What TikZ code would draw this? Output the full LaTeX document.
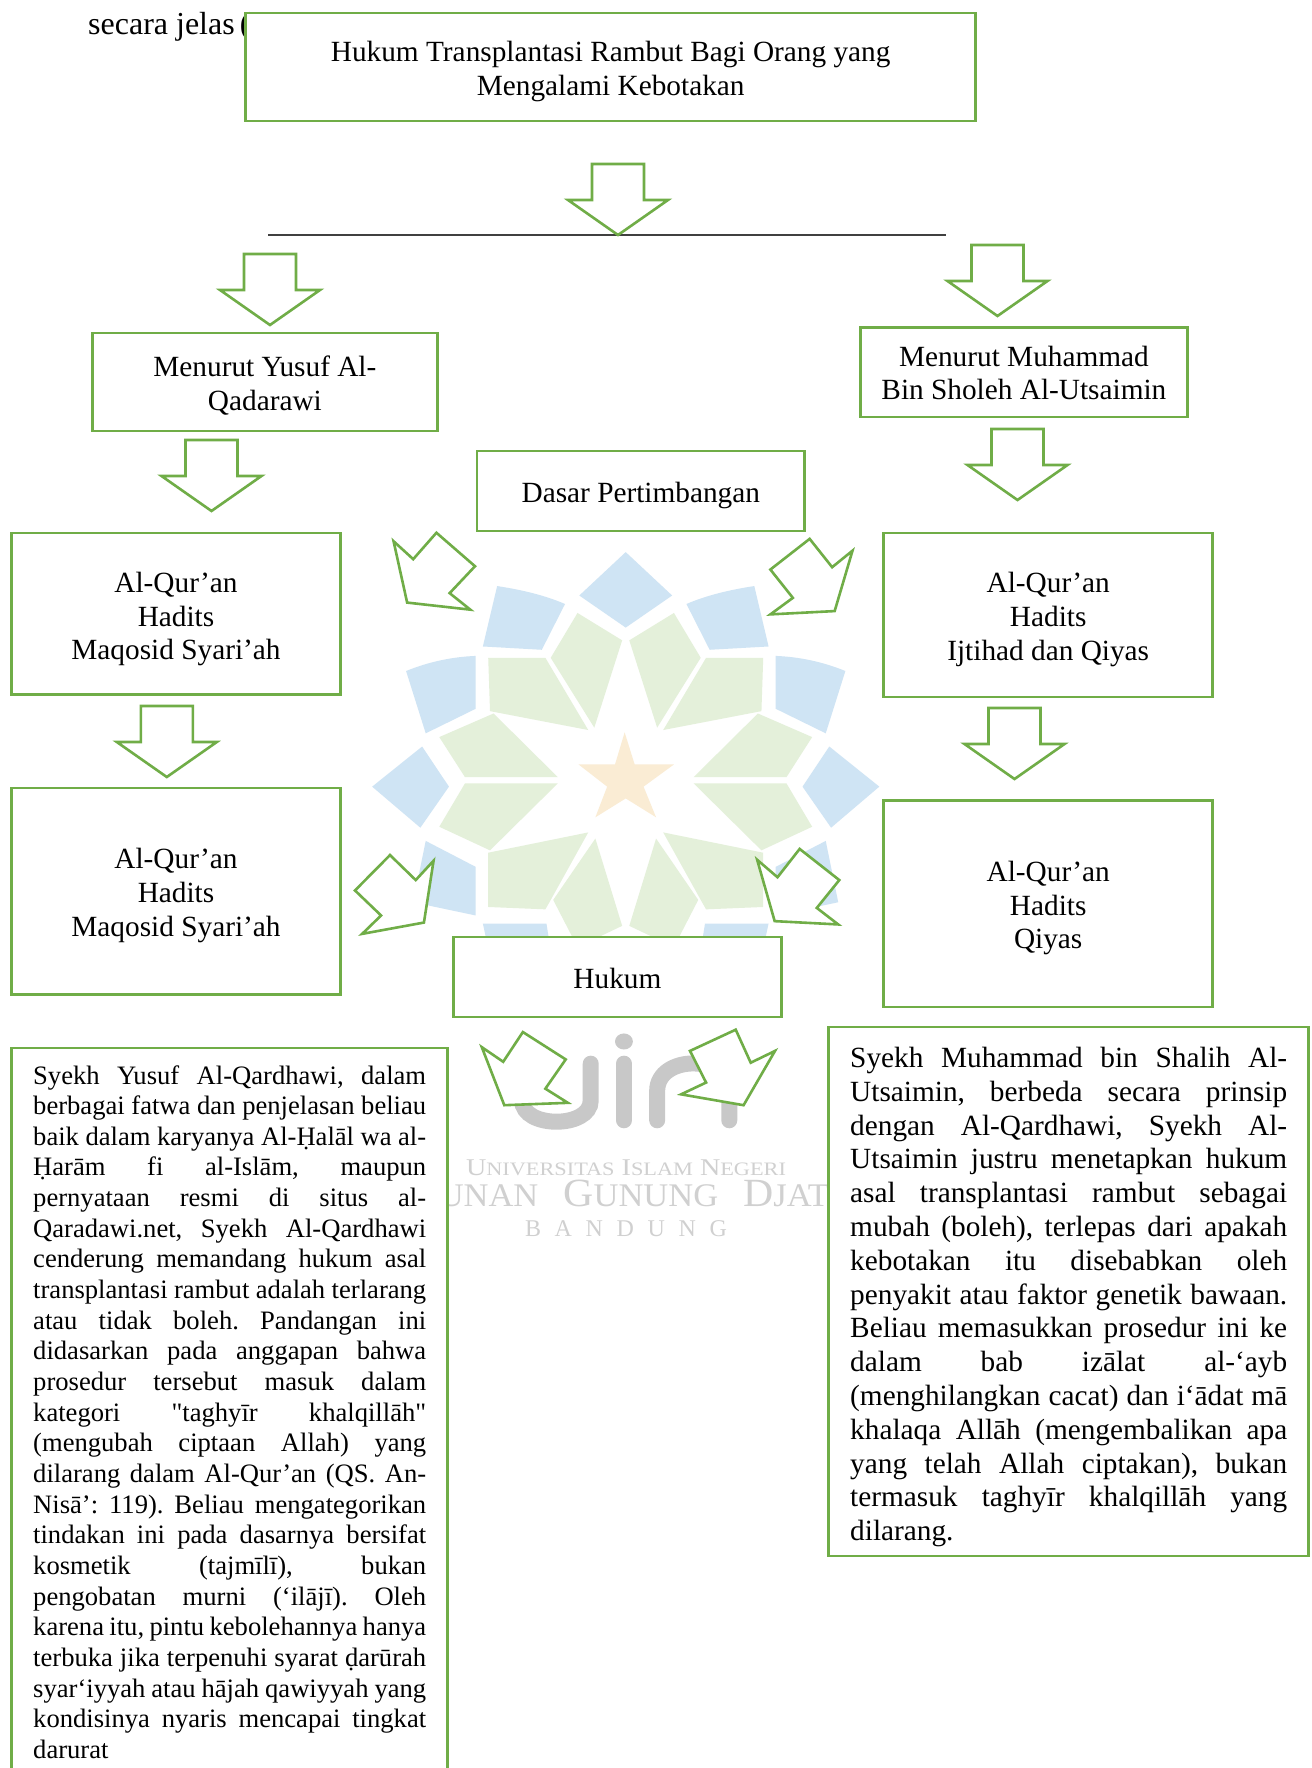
\documentclass[tikz,border=0pt]{standalone}
\usepackage{fontspec}
\setmainfont{Liberation Serif}
\newfontfamily\plainserif{Liberation Serif}
\definecolor{boxgreen}{HTML}{70AD47}
\definecolor{wblue}{HTML}{CFE4F4}
\definecolor{wgreen}{HTML}{E4F0DA}
\definecolor{wstar}{HTML}{FAECD4}
\definecolor{wgray}{HTML}{C8C8C8}
\definecolor{wtext}{HTML}{D0D0D0}
\hbadness=10000 \hfuzz=20pt
\newcommand{\bodyfont}{\fontsize{29.3}{33.8}\selectfont}
\newcommand{\jl}[1]{\hbox to \hsize{#1}}
\newcommand{\nl}[1]{\hbox{#1}}
\newcommand{\tl}[1]{\rule{0pt}{#1pt}}
\tikzset{
  x=1pt,y=-1pt,
  flowbox/.style={draw=boxgreen,line width=2.8pt,fill=white,align=center,inner sep=0pt,font=\bodyfont},
  blockarrow/.style={draw=boxgreen,line width=2.6pt,fill=white,line join=miter},
  wmtext/.style={text=wtext,inner sep=0pt},
  wmstroke/.style={draw=wgray,line width=16pt,line cap=round},
  pics/downarrow/.style={code={
    \draw[blockarrow] (-26,0) -- (26,0) -- (26,36) -- (50,36) -- (0,71) -- (-50,36) -- (-26,36) -- cycle;
  }}
}
\begin{document}
\begin{tikzpicture}
\clip (0,0) rectangle (1311,1768);
\fill[white] (0,0) rectangle (1311,1768);
\node[anchor=base west,inner sep=0pt,font=\fontsize{32}{36}\selectfont] (intro) at (88,35) {secara jelas\kern5pt(};

% watermark
\begin{scope}[shift={(340,520)},xscale=0.35714,yscale=0.47192]
  \foreach \m in {1,-1}{
    \begin{scope}[shift={(800,0)},xscale=\m,shift={(-800,0)}]
      \fill[wblue] (440,140) .. controls (510,148) and (575,160) .. (630,178) -- (565,275) -- (400,268) -- cycle;
      \fill[wblue] (185,320) .. controls (250,300) and (315,290) .. (380,288) -- (380,400) -- (240,452) -- cycle;
      \fill[wblue] (90,565) -- (230,480) -- (305,565) -- (225,652) -- cycle;
      \fill[wblue] (205,810) -- (240,680) -- (380,735) -- (380,838) -- cycle;
      \fill[wblue] (400,855) -- (578,855) -- (600,960) -- (430,960) -- cycle;
      \fill[wgreen] (665,197) -- (790,255) -- (712,440) -- (590,292) -- cycle;
      \fill[wgreen] (415,292) -- (575,292) -- (695,445) -- (420,405) -- cycle;
      \fill[wgreen] (430,410) -- (610,545) -- (350,545) -- (278,460) -- cycle;
      \fill[wgreen] (278,650) -- (350,558) -- (610,558) -- (420,700) -- cycle;
      \fill[wgreen] (415,705) -- (695,662) -- (590,805) -- (575,825) -- (415,820) -- cycle;
      \fill[wgreen] (715,675) -- (790,860) -- (665,905) -- (597,805) -- cycle;
    \end{scope}
  }
  \fill[wblue] (800,68) -- (930,160) -- (800,228) -- (670,160) -- cycle;
  \fill[wstar] (797,450) -- (825,518) -- (935,518) -- (850,565) -- (885,630) -- (800,590) -- (715,630) -- (748,565) -- (668,518) -- (770,518) -- cycle;
  % uin letters
  \draw[wmstroke] (510,1200) -- (510,1230) .. controls (510,1290) and (702,1290) .. (702,1230) -- (702,1152);
  \draw[wmstroke] (795,1152) -- (795,1272);
  \fill[wgray] (795,1105) ellipse (25 and 17);
  \draw[wmstroke] (888,1272) -- (888,1210) .. controls (888,1132) and (1090,1132) .. (1090,1210) -- (1090,1272);
\end{scope}
\node[wmtext,anchor=base] (wm1) at (626,1175) {\resizebox{320pt}{\height}{\fontsize{24}{24}\selectfont U{\fontsize{19}{19}\selectfont NIVERSITAS} I{\fontsize{19}{19}\selectfont SLAM} N{\fontsize{19}{19}\selectfont EGERI}}};
\node[wmtext,anchor=base] (wm2) at (628,1206) {\resizebox{425pt}{\height}{\fontsize{40}{40}\selectfont S{\fontsize{33}{33}\selectfont UNAN}\hspace{14pt} G{\fontsize{33}{33}\selectfont UNUNG}\hspace{14pt} D{\fontsize{33}{33}\selectfont JATI}}};
\node[wmtext,anchor=base] (wm3) at (626,1236) {\fontsize{24}{24}\selectfont\makebox[202pt][s]{B\hfil A\hfil N\hfil D\hfil U\hfil N\hfil G}};

% rule
\draw[black!75,line width=1.5pt] (268.4,235) -- (945.6,235);

% boxes
\node[flowbox,minimum width=730pt,minimum height=108pt] (title) at (610.7,67) {\tl{29}Hukum Transplantasi Rambut Bagi Orang yang\\Mengalami Kebotakan};
\node[flowbox,minimum width=344.5pt,minimum height=98pt] (yusuf) at (264.9,382) {\tl{27}Menurut Yusuf Al-\\Qadarawi};
\node[flowbox,minimum width=327.5pt,minimum height=89.5pt] (muhammad) at (1023.9,372.2) {\tl{22}Menurut Muhammad\\Bin Sholeh Al-Utsaimin};
\node[flowbox,minimum width=327.5pt,minimum height=80pt] (dasar) at (640.8,491) {\tl{29}Dasar Pertimbangan};
\node[flowbox,minimum width=329pt,minimum height=161.5pt] (l1) at (176,613.7) {\tl{31}Al-Qur’an\\Hadits\\Maqosid Syari’ah};
\node[flowbox,minimum width=329pt,minimum height=206.5pt] (l2) at (176,891.2) {\tl{29}Al-Qur’an\\Hadits\\Maqosid Syari’ah};
\node[flowbox,minimum width=329pt,minimum height=164pt] (r1) at (1048.2,615) {\tl{29}Al-Qur’an\\Hadits\\Ijtihad dan Qiyas};
\node[flowbox,minimum width=329pt,minimum height=206.5pt] (r2) at (1048.2,903.7) {\tl{29}Al-Qur’an\\Hadits\\Qiyas};
\node[flowbox,minimum width=328.4pt,minimum height=80pt] (hukum) at (617.4,977) {\tl{24}Hukum};

% down block arrows
\pic (a1) at (618,164) {downarrow};
\pic (a2) at (270,254) {downarrow};
\pic (a3) at (997.5,245) {downarrow};
\pic (a4) at (211.5,440) {downarrow};
\pic (a5) at (1017.5,429) {downarrow};
\pic (a6) at (166.8,706) {downarrow};
\pic (a7) at (1014.5,708) {downarrow};

% diagonal block arrows
\begin{scope}[shift={(340,520)},xscale=0.35714,yscale=0.47192]
  \draw[blockarrow] (150,45) -- (205,83) -- (270,27) -- (378,98) -- (307,155) -- (365,190) -- (188,175) -- cycle;
  \draw[blockarrow] (1435,65) -- (1378,100) -- (1315,40) -- (1205,105) -- (1268,165) -- (1205,200) -- (1385,193) -- cycle;
  \draw[blockarrow] (262,722) -- (212,763) -- (140,710) -- (42,785) -- (115,838) -- (62,877) -- (235,853) -- cycle;
  \draw[blockarrow] (1168,720) -- (1225,757) -- (1287,697) -- (1398,763) -- (1335,822) -- (1395,857) -- (1217,850) -- cycle;
  \draw[blockarrow] (397,1117) -- (457,1148) -- (512,1085) -- (632,1143) -- (575,1205) -- (638,1235) -- (460,1240) -- cycle;
  \draw[blockarrow] (1218,1125) -- (1150,1150) -- (1108,1080) -- (980,1125) -- (1025,1192) -- (955,1217) -- (1130,1240) -- cycle;
\end{scope}

% text boxes
\node[flowbox,minimum width=436pt,minimum height=760pt] (leftbox) at (229.5,1428) {};
\node[anchor=base west,inner sep=0pt] (lefttext) at (33,1084) {\vtop{\hsize=393pt\fontsize{26.6}{30.66}\selectfont\frenchspacing\lineskiplimit=-100pt
\jl{Syekh Yusuf Al-Qardhawi, dalam}
\jl{berbagai fatwa dan penjelasan beliau}
\jl{baik dalam karyanya Al-Ḥalāl wa al-}
\jl{Ḥarām fi al-Islām, maupun}
\jl{pernyataan resmi di situs al-}
\jl{Qaradawi.net, Syekh Al-Qardhawi}
\jl{cenderung memandang hukum asal}
\jl{transplantasi rambut adalah terlarang}
\jl{atau tidak boleh. Pandangan ini}
\jl{didasarkan pada anggapan bahwa}
\jl{prosedur tersebut masuk dalam}
\jl{kategori {\plainserif "}taghyīr khalqillāh{\plainserif "}}
\jl{(mengubah ciptaan Allah) yang}
\jl{dilarang dalam Al-Qur’an (QS. An-}
\jl{Nisā’: 119). Beliau mengategorikan}
\jl{tindakan ini pada dasarnya bersifat}
\jl{kosmetik (tajmīlī), bukan}
\jl{pengobatan murni (‘ilājī). Oleh}
\jl{karena itu, pintu kebolehannya hanya}
\jl{terbuka jika terpenuhi syarat ḍarūrah}
\jl{syar‘iyyah atau hājah qawiyyah yang}
\jl{kondisinya nyaris mencapai tingkat}
\nl{darurat}}};

\node[flowbox,minimum width=480pt,minimum height=529pt] (rightbox) at (1068.5,1291.5) {};
\node[anchor=base west,inner sep=0pt] (righttext) at (850,1067.5) {\vtop{\hsize=437pt\bodyfont\frenchspacing\lineskiplimit=-100pt
\jl{Syekh Muhammad bin Shalih Al-}
\jl{Utsaimin, berbeda secara prinsip}
\jl{dengan Al-Qardhawi, Syekh Al-}
\jl{Utsaimin justru menetapkan hukum}
\jl{asal transplantasi rambut sebagai}
\jl{mubah (boleh), terlepas dari apakah}
\jl{kebotakan itu disebabkan oleh}
\jl{penyakit atau faktor genetik bawaan.}
\jl{Beliau memasukkan prosedur ini ke}
\jl{dalam bab izālat al-‘ayb}
\jl{(menghilangkan cacat) dan i‘ādat mā}
\jl{khalaqa Allāh (mengembalikan apa}
\jl{yang telah Allah ciptakan), bukan}
\jl{termasuk taghyīr khalqillāh yang}
\nl{dilarang.}}};
\end{tikzpicture}
\end{document}
